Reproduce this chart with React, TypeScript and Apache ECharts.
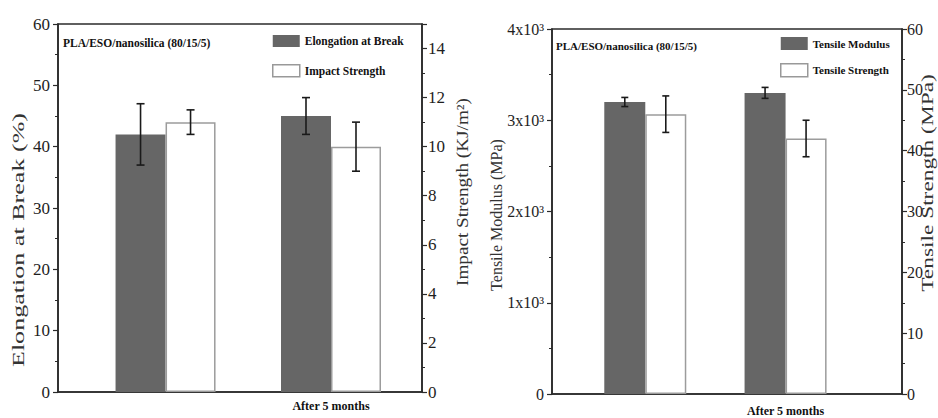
import React, { useEffect, useRef } from "react";
import * as echarts from "echarts";

// ---- data ----
const leftPositions = [1, 2];
const elongation = [42, 45];
const elongationErr = [5, 3];
const impact = [11, 10];
const impactErr = [0.5, 1];

const rightPositions = [1, 2];
const modulus = [3200, 3300];
const modulusErr = [50, 60];
const strength = [46, 42];
const strengthErr = [3, 3];

const groupLabel = "After 5 months";
const labelPosition = 2;
const annotation = "PLA/ESO/nanosilica (80/15/5)";

const SERIF = "'Liberation Serif', 'Times New Roman', serif";
const DARK = "#666666";
const AXIS = "#2b2b2b";

const errData = (pos: number[], v: number[], e: number[]) =>
  pos.map((p, i) => [p, v[i] - e[i], v[i] + e[i]]);

const errRender = (offset: number, cap: number) => (_params: any, api: any) => {
  const x = api.value(0);
  const lo = api.value(1);
  const hi = api.value(2);
  const top = api.coord([x, hi]);
  const bot = api.coord([x, lo]);
  const cx = top[0] + offset;
  const style = { stroke: "#1a1a1a", lineWidth: 1.6 };
  return {
    type: "group",
    children: [
      { type: "line", shape: { x1: cx, y1: top[1], x2: cx, y2: bot[1] }, style },
      { type: "line", shape: { x1: cx - cap / 2, y1: top[1], x2: cx + cap / 2, y2: top[1] }, style },
      { type: "line", shape: { x1: cx - cap / 2, y1: bot[1], x2: cx + cap / 2, y2: bot[1] }, style },
    ],
  };
};

const yAxisBase = (gridIndex: number, position: string, min: number, max: number, interval: number, fontSize: number, margin: number, formatter: any) => ({
  type: "value",
  gridIndex,
  position,
  min,
  max,
  interval,
  splitLine: { show: false },
  axisLine: { show: true, lineStyle: { color: AXIS, width: 1.6 } },
  axisTick: { show: true, inside: false, length: 5, lineStyle: { color: AXIS, width: 1.2 } },
  minorTick: { show: true, splitNumber: 2, length: 3, lineStyle: { color: AXIS, width: 1 } },
  axisLabel: { color: "#1e1e1e", fontFamily: SERIF, fontSize, margin, formatter },
});

const titleText = (text: string, x: number, y: number, scale: number) => ({
  type: "text",
  x,
  y,
  rotation: Math.PI / 2,
  scaleX: scale,
  style: {
    text,
    fill: "#333",
    font: `16px ${SERIF}`,
    align: "center",
    verticalAlign: "middle",
  },
});

export default function App() {
  const ref = useRef<HTMLDivElement>(null);
  useEffect(() => {
    if (!ref.current) return;
    const chart = echarts.init(ref.current, undefined, { renderer: "svg" });
    const option: any = {
      animation: false,
      backgroundColor: "#ffffff",
      grid: [
        { left: 58, top: 24, width: 364, height: 368, show: true, borderColor: AXIS, borderWidth: 1.6, backgroundColor: "transparent" },
        { left: 552, top: 29, width: 350, height: 365, show: true, borderColor: AXIS, borderWidth: 1.6, backgroundColor: "transparent" },
      ],
      xAxis: [
        {
          type: "value", gridIndex: 0, min: 0.35, max: 2.55,
          splitLine: { show: false },
          axisLine: { show: true, lineStyle: { color: AXIS, width: 1.6 } },
          axisTick: { show: false },
          axisLabel: {
            customValues: [labelPosition],
            formatter: () => groupLabel,
            fontFamily: SERIF, fontWeight: "bold", fontSize: 12, color: "#111", margin: 8,
          },
        },
        {
          type: "value", gridIndex: 1, min: 0.335, max: 2.83,
          splitLine: { show: false },
          axisLine: { show: true, lineStyle: { color: AXIS, width: 1.6 } },
          axisTick: { show: false },
          axisLabel: {
            customValues: [labelPosition],
            formatter: () => groupLabel,
            fontFamily: SERIF, fontWeight: "bold", fontSize: 12, color: "#111", margin: 11,
          },
        },
      ],
      yAxis: [
        yAxisBase(0, "left", 0, 60, 10, 17, 8, (v: number) => String(v)),
        yAxisBase(0, "right", 0, 15, 2, 17, 6, (v: number) => (v > 14 ? "" : String(v))),
        yAxisBase(1, "left", 0, 4000, 1000, 16, 8, (v: number) => (v === 0 ? "0" : `${v / 1000}x10³`)),
        yAxisBase(1, "right", 0, 60, 10, 16, 5, (v: number) => String(v)),
      ],
      legend: [
        {
          orient: "vertical", left: 267, top: 30, padding: 5, itemWidth: 27, itemHeight: 12, itemGap: 17,
          textStyle: { fontFamily: SERIF, fontWeight: "bold", fontSize: 11.5, color: "#111" },
          data: [
            { name: "Elongation at Break", icon: "rect", itemStyle: { color: DARK, borderWidth: 0 } },
            { name: "Impact Strength", icon: "rect", itemStyle: { color: "#fff", borderColor: "#999", borderWidth: 1.5 } },
          ],
        },
        {
          orient: "vertical", left: 775, top: 32, padding: 5, itemWidth: 27, itemHeight: 13, itemGap: 13,
          textStyle: { fontFamily: SERIF, fontWeight: "bold", fontSize: 11, color: "#111" },
          data: [
            { name: "Tensile Modulus", icon: "rect", itemStyle: { color: DARK, borderWidth: 0 } },
            { name: "Tensile Strength", icon: "rect", itemStyle: { color: "#fff", borderColor: "#999", borderWidth: 1.5 } },
          ],
        },
      ],
      series: [
        {
          name: "Elongation at Break", type: "bar", xAxisIndex: 0, yAxisIndex: 0,
          barWidth: 50, barGap: "0%",
          itemStyle: { color: DARK },
          data: leftPositions.map((p, i) => [p, elongation[i]]),
        },
        {
          name: "Impact Strength", type: "bar", xAxisIndex: 0, yAxisIndex: 1,
          barWidth: 50, barGap: "0%",
          itemStyle: { color: "#ffffff", borderColor: "#9c9c9c", borderWidth: 1.5 },
          data: leftPositions.map((p, i) => [p, impact[i]]),
        },
        {
          name: "Tensile Modulus", type: "bar", xAxisIndex: 1, yAxisIndex: 2,
          barWidth: 41, barGap: "0%",
          itemStyle: { color: DARK },
          data: rightPositions.map((p, i) => [p, modulus[i]]),
        },
        {
          name: "Tensile Strength", type: "bar", xAxisIndex: 1, yAxisIndex: 3,
          barWidth: 41, barGap: "0%",
          itemStyle: { color: "#ffffff", borderColor: "#9c9c9c", borderWidth: 1.5 },
          data: rightPositions.map((p, i) => [p, strength[i]]),
        },
        {
          name: "err1", type: "custom", xAxisIndex: 0, yAxisIndex: 0, z: 5,
          encode: { x: 0, y: [1, 2] },
          renderItem: errRender(-25, 8),
          data: errData(leftPositions, elongation, elongationErr),
        },
        {
          name: "err2", type: "custom", xAxisIndex: 0, yAxisIndex: 1, z: 5,
          encode: { x: 0, y: [1, 2] },
          renderItem: errRender(25, 8),
          data: errData(leftPositions, impact, impactErr),
        },
        {
          name: "err3", type: "custom", xAxisIndex: 1, yAxisIndex: 2, z: 5,
          encode: { x: 0, y: [1, 2] },
          renderItem: errRender(-20.5, 7),
          data: errData(rightPositions, modulus, modulusErr),
        },
        {
          name: "err4", type: "custom", xAxisIndex: 1, yAxisIndex: 3, z: 5,
          encode: { x: 0, y: [1, 2] },
          renderItem: errRender(20.5, 7),
          data: errData(rightPositions, strength, strengthErr),
        },
      ],
      graphic: [
        {
          type: "text", x: 63, y: 43,
          style: { text: annotation, fill: "#111", font: `bold 11.5px ${SERIF}`, align: "left", verticalAlign: "middle" },
        },
        {
          type: "text", x: 556, y: 46,
          style: { text: annotation, fill: "#111", font: `bold 11px ${SERIF}`, align: "left", verticalAlign: "middle" },
        },
        titleText("Elongation at Break (%)", 19, 240, 1.63),
        titleText("Impact Strength (KJ/m²)", 463, 192, 1.2),
        titleText("Tensile Modulus (MPa)", 496, 215, 1.0),
        titleText("Tensile Strength (MPa)", 927, 183, 1.46),
      ],
    };
    chart.setOption(option);
    return () => chart.dispose();
  }, []);
  return (
    <div
      ref={ref}
      style={{ position: "fixed", left: 0, top: 0, width: 938, height: 418, background: "#fff" }}
    />
  );
}
